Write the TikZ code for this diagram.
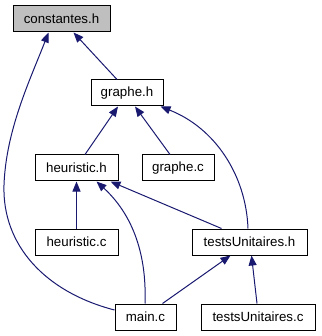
\documentclass[tikz,border=0pt]{standalone}
\usepackage{fontspec}
\setmainfont{Liberation Sans}
\usetikzlibrary{arrows.meta}
\definecolor{edgeblue}{HTML}{191970}
\definecolor{rootgrey}{HTML}{BFBFBF}
\tikzset{
  filebox/.style={draw=black, line width=1pt, fill=white, inner sep=0pt,
    minimum height=26pt, font=\fontsize{13.3}{16}\selectfont},
  rootbox/.style={filebox, fill=rootgrey},
  incl/.style={draw=edgeblue, line width=1pt,
    -{Triangle[length=10pt,width=8pt]}, fill=none},
}
\begin{document}
\begin{tikzpicture}[x=1pt,y=-1pt]
\useasboundingbox (0,0) rectangle (321,336);

% files of the include graph
\node[rootbox, minimum width=97pt] (const)   at (61.5,19)  {constantes.h};
\node[filebox, minimum width=72pt] (graphe)  at (127,93)   {graphe.h};
\node[filebox, minimum width=83pt] (heurh)   at (76.5,168) {heuristic.h};
\node[filebox, minimum width=72pt] (graphec) at (178,168)  {graphe.c};
\node[filebox, minimum width=83pt] (heurc)   at (76.5,242) {heuristic.c};
\node[filebox, minimum width=115pt] (testsh) at (249.5,242) {testsUnitaires.h};
\node[filebox, minimum width=61pt] (mainc)   at (145.5,317) {main.c};
\node[filebox, minimum width=114pt] (testsc) at (258,317)  {testsUnitaires.c};

% include relations (arrow points at the included file)
\draw[incl] ([xshift=-10pt]graphe.north) -- ([xshift=12pt]const.south);
\draw[incl] ([yshift=7pt]mainc.west) .. controls (45,292) and (2,245) .. (4,185)
            .. controls (6,130) and (30,80) .. ([xshift=-13pt]const.south);
\draw[incl] ([xshift=8.5pt]heurh.north) -- ([xshift=-9pt]graphe.south);
\draw[incl] ([xshift=-8pt]graphec.north) -- ([xshift=8pt]graphe.south);
\draw[incl] ([xshift=-1.5pt]testsh.north) .. controls (246,175) and (215,128) .. ([xshift=-3pt]graphe.south east);
\draw[incl] (heurc.north) -- (heurh.south);
\draw[incl] ([xshift=-0.5pt]mainc.north) .. controls (147,250) and (130,212) .. ([xshift=20pt]heurh.south);
\draw[incl] ([xshift=-28pt]testsh.north) -- ([xshift=34pt]heurh.south);
\draw[incl] ([xshift=17pt]mainc.north) -- ([xshift=-19pt]testsh.south);
\draw[incl] ([xshift=-1pt]testsc.north) -- ([xshift=2pt]testsh.south);
\end{tikzpicture}
\end{document}
